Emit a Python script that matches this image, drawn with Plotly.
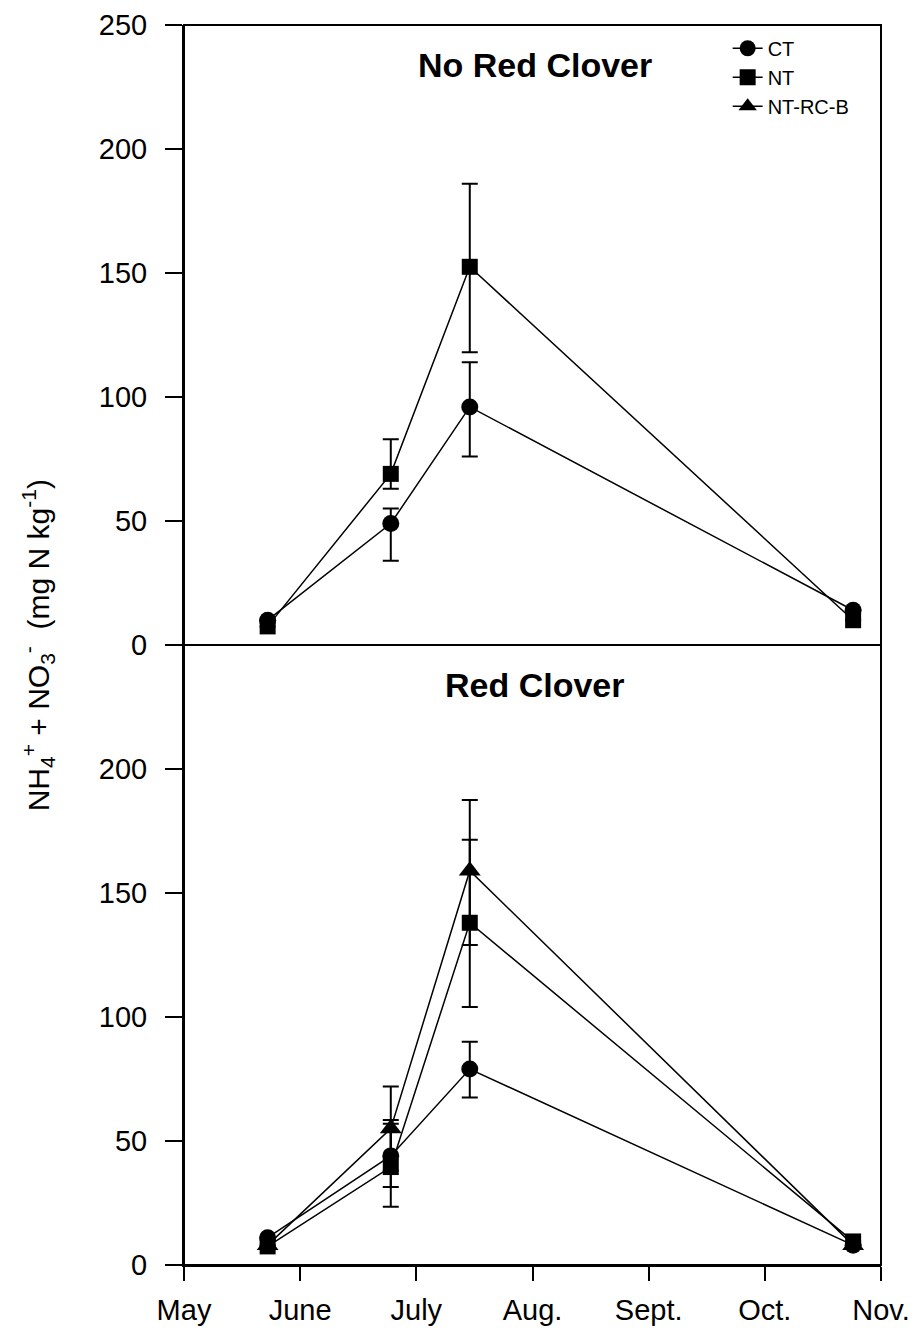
import plotly.graph_objects as go

# sampling dates as months after May 1
x_dates = [0.72, 1.78, 2.46, 5.76]
month_vals = [0, 1, 2, 3, 4, 5, 6]
month_labels = ["May", "June", "July", "Aug.", "Sept.", "Oct.", "Nov."]

# Top panel: No Red Clover
top_ct = [10, 49, 96, 14]
top_ct_up = [0, 6, 18, 0]
top_ct_dn = [0, 15, 20, 0]
top_nt = [7.5, 69, 152.5, 10]
top_nt_up = [0, 14, 33.5, 0]
top_nt_dn = [0, 6, 34.5, 0]

# Bottom panel: Red Clover
bot_ct = [11, 44, 79, 8]
bot_ct_up = [0, 14.5, 11, 0]
bot_ct_dn = [0, 12.5, 11.5, 0]
bot_nt = [7.5, 39.5, 138, 9.5]
bot_nt_up = [0, 17.5, 33.5, 0]
bot_nt_dn = [0, 16, 34, 0]
bot_rc = [8, 55, 159, 8]
bot_rc_up = [0, 17, 28.5, 0]
bot_rc_dn = [0, 17, 30, 0]

FONT = "Liberation Sans, Arial, sans-serif"
BLACK = "black"

fig = go.Figure()


def add(x, y, up, dn, name, symbol, size, xa, ya, show):
    fig.add_trace(go.Scatter(
        x=x, y=y, mode="lines+markers", name=name, legendgroup=name,
        showlegend=show, xaxis=xa, yaxis=ya,
        line=dict(color=BLACK, width=1.5),
        marker=dict(symbol=symbol, size=size, color=BLACK),
        error_y=dict(type="data", symmetric=False, array=up, arrayminus=dn,
                     color=BLACK, thickness=2, width=8),
        cliponaxis=False,
    ))


add(x_dates, top_ct, top_ct_up, top_ct_dn, "CT", "circle", 17, "x2", "y", True)
add(x_dates, top_nt, top_nt_up, top_nt_dn, "NT", "square", 16, "x2", "y", True)
add(x_dates, bot_ct, bot_ct_up, bot_ct_dn, "CT", "circle", 17, "x", "y2", False)
add(x_dates, bot_nt, bot_nt_up, bot_nt_dn, "NT", "square", 16, "x", "y2", False)
add(x_dates, bot_rc, bot_rc_up, bot_rc_dn, "NT-RC-B", "triangle-up", 19, "x", "y2", True)

axis_common = dict(showline=True, linecolor=BLACK, linewidth=2, showgrid=False,
                   zeroline=False, ticks="outside", tickcolor=BLACK, tickwidth=2,
                   automargin=False,
                   tickfont=dict(family=FONT, size=29, color=BLACK))

fig.update_layout(
    width=921, height=1339,
    margin=dict(l=184, r=40, t=25, b=74),
    plot_bgcolor="white", paper_bgcolor="white",
    font=dict(family=FONT, color=BLACK),
    xaxis=dict(domain=[0, 1], anchor="y2", range=[0, 6], tickvals=month_vals,
               ticktext=month_labels, ticklen=14, ticklabelstandoff=4, **axis_common),
    xaxis2=dict(domain=[0, 1], anchor="y", range=[0, 6], matches="x",
                showline=False, showgrid=False, zeroline=False, automargin=False,
                showticklabels=False, ticks=""),
    yaxis=dict(domain=[0.5, 1], anchor="x2", range=[0, 250],
               tickvals=[0, 50, 100, 150, 200, 250], ticklen=17,
               ticklabelstandoff=12, **axis_common),
    yaxis2=dict(domain=[0, 0.5], anchor="x", range=[0, 250],
                tickvals=[0, 50, 100, 150, 200], ticklen=17,
                ticklabelstandoff=12, **axis_common),
    legend=dict(x=0.78, y=0.997, xanchor="left", yanchor="top",
                bgcolor="rgba(0,0,0,0)", font=dict(family=FONT, size=20, color=BLACK),
                tracegroupgap=0, itemsizing="trace"),
    showlegend=True,
)

# frame and divider
fig.add_shape(type="rect", xref="paper", yref="paper", x0=0, x1=1, y0=0, y1=1,
              line=dict(color=BLACK, width=2))
fig.add_shape(type="line", xref="paper", yref="paper", x0=0, x1=1, y0=0.5, y1=0.5,
              line=dict(color=BLACK, width=2))

fig.add_annotation(text="<b>No Red Clover</b>", xref="paper", yref="paper",
                   x=0.504, y=0.9677, showarrow=False, yanchor="middle",
                   font=dict(family=FONT, size=34, color=BLACK))
fig.add_annotation(text="<b>Red Clover</b>", xref="paper", yref="paper",
                   x=0.504, y=0.468, showarrow=False, yanchor="middle",
                   font=dict(family=FONT, size=34, color=BLACK))
fig.add_annotation(
    text="NH<sub>4</sub><sup>+</sup> + NO<sub>3</sub><sup>-</sup>  (mg N kg<sup>-1</sup>)",
    xref="paper", yref="paper", x=-0.209, y=0.5, textangle=-90,
    showarrow=False, xanchor="center", yanchor="middle",
    font=dict(family=FONT, size=30, color=BLACK))

fig.write_html("out.html")
